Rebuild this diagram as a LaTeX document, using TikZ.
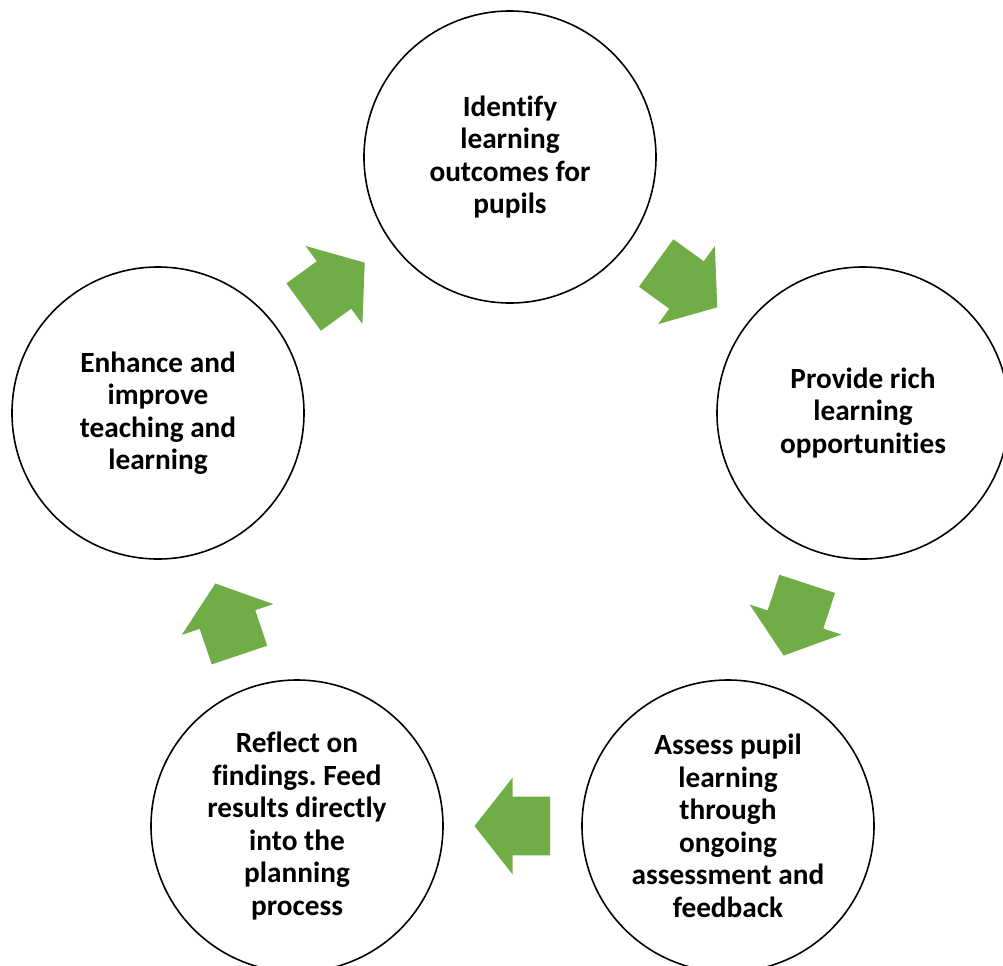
\documentclass[tikz,border=0pt]{standalone}
\usepackage{fontspec}
\setmainfont{Carlito}[Ligatures={NoCommon}]
\frenchspacing
\usetikzlibrary{calc}
\definecolor{arrowgreen}{HTML}{70AD47}
\tikzset{
  stage/.style={circle, draw=black, line width=1.6pt, minimum size=292bp, inner sep=0pt,
    align=center, font=\fontsize{29.3bp}{32.5bp}\selectfont\bfseries, text=black},
  cyclearrow/.style={fill=arrowgreen, draw=none}
}
\newcommand\cyclearrowdraw[2]{%
  \path[cyclearrow] let \p1=($(#2)-(#1)$), \n1={atan2(\y1,\x1)}, \p2=($(#1)!0.5!(#2)$) in
    ($(\p2)+(\n1:38bp)$) -- ($(\p2)+(\n1+90:48.3bp)$) -- ($(\p2)+(\n1+90:29.3bp)$)
    -- ($(\p2)+(\n1+90:29.3bp)+(\n1+180:37.5bp)$) -- ($(\p2)+(\n1-90:29.3bp)+(\n1+180:37.5bp)$)
    -- ($(\p2)+(\n1-90:29.3bp)$) -- ($(\p2)+(\n1-90:48.3bp)$) -- cycle;}
\begin{document}
\begin{tikzpicture}[x=1bp,y=-1bp]
\useasboundingbox (0,0) rectangle (1003,966);
\node[stage] (A) at (510,157) {Identify\\learning\\outcomes for\\pupils};
\node[stage] (B) at (863,413) {Provide rich\\learning\\opportunities};
\node[stage] (C) at (728,826) {Assess pupil\\learning\\through\\ongoing\\assessment and\\feedback};
\node[stage] (D) at (297,826) {Reflect on\\findings. Feed\\results directly\\into the\\planning\\process};
\node[stage] (E) at (158,413) {Enhance and\\improve\\teaching and\\learning};
\cyclearrowdraw{E}{A}
\cyclearrowdraw{A}{B}
\cyclearrowdraw{B}{C}
\cyclearrowdraw{C}{D}
\cyclearrowdraw{D}{E}
\end{tikzpicture}
\end{document}
